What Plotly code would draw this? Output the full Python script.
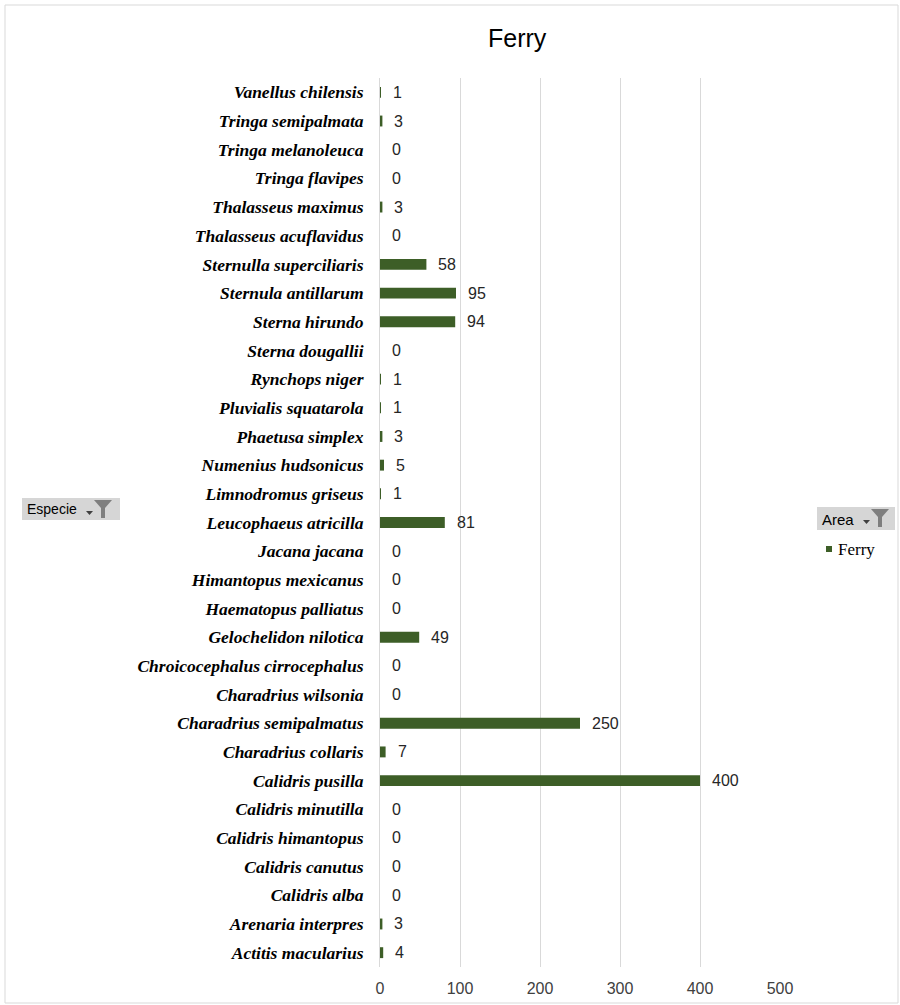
import plotly.graph_objects as go

species = [
    "Actitis macularius", "Arenaria interpres", "Calidris alba", "Calidris canutus",
    "Calidris himantopus", "Calidris minutilla", "Calidris pusilla", "Charadrius collaris",
    "Charadrius semipalmatus", "Charadrius wilsonia", "Chroicocephalus cirrocephalus",
    "Gelochelidon nilotica", "Haematopus palliatus", "Himantopus mexicanus", "Jacana jacana",
    "Leucophaeus atricilla", "Limnodromus griseus", "Numenius hudsonicus", "Phaetusa simplex",
    "Pluvialis squatarola", "Rynchops niger", "Sterna dougallii", "Sterna hirundo",
    "Sternula antillarum", "Sternulla superciliaris", "Thalasseus acuflavidus",
    "Thalasseus maximus", "Tringa flavipes", "Tringa melanoleuca", "Tringa semipalmata",
    "Vanellus chilensis",
]
ferry = [4, 3, 0, 0, 0, 0, 400, 7, 250, 0, 0, 49, 0, 0, 0, 81, 1, 5, 3, 1, 1, 0, 94,
         95, 58, 0, 3, 0, 0, 3, 1]
x_ticks = [0, 100, 200, 300, 400, 500]

GREEN = "#3D5E27"
W, H = 900, 1005
L, R, T, B = 380, 780, 78, 967


def X(px):
    return (px - L) / (R - L)


def Y(py):
    return (B - py) / (B - T)


fig = go.Figure()
fig.add_trace(go.Bar(
    x=ferry, y=species, orientation="h", marker=dict(color=GREEN, line=dict(width=0)),
    name="Ferry", showlegend=False, hoverinfo="x+y",
))

annotations = []
for s, v in zip(species, ferry):
    annotations.append(dict(
        x=v, y=s, xref="x", yref="y", text=str(v), showarrow=False,
        xanchor="left", xshift=10, font=dict(family="Liberation Sans, Arial", size=16, color="#262626"),
    ))

# title
annotations.append(dict(x=X(517), y=Y(38), xref="paper", yref="paper", text="Ferry",
                        showarrow=False, xanchor="center", yanchor="middle",
                        font=dict(family="Liberation Sans, Arial", size=25, color="#000000")))
# Especie button text
annotations.append(dict(x=X(25), y=Y(509), xref="paper", yref="paper", text="Especie",
                        showarrow=False, xanchor="left", yanchor="middle",
                        font=dict(family="Liberation Sans, Arial", size=14, color="#000000")))
# Area button text
annotations.append(dict(x=X(820), y=Y(519), xref="paper", yref="paper", text="Area",
                        showarrow=False, xanchor="left", yanchor="middle",
                        font=dict(family="Liberation Sans, Arial", size=15, color="#000000")))
# legend text
annotations.append(dict(x=X(836), y=Y(549), xref="paper", yref="paper", text="Ferry",
                        showarrow=False, xanchor="left", yanchor="middle",
                        font=dict(family="Liberation Serif, Times New Roman", size=17, color="#000000")))

shapes = [
    # outer chart border
    dict(type="rect", xref="paper", yref="paper", x0=X(5), x1=X(898), y0=Y(1003), y1=Y(5),
         line=dict(color="#D9D9D9", width=1), fillcolor="rgba(0,0,0,0)", layer="below"),
    # Especie button
    dict(type="rect", xref="paper", yref="paper", x0=X(22), x1=X(120), y0=Y(520), y1=Y(498),
         line=dict(width=0), fillcolor="#D6D6D6", layer="below"),
    # Area button
    dict(type="rect", xref="paper", yref="paper", x0=X(817), x1=X(895), y0=Y(530), y1=Y(507),
         line=dict(width=0), fillcolor="#D6D6D6", layer="below"),
    # legend marker
    dict(type="rect", xref="paper", yref="paper", x0=X(826), x1=X(832), y0=Y(552), y1=Y(546),
         line=dict(width=0), fillcolor=GREEN),
]


def funnel(x0, y0):
    # funnel icon with small arrow, top-left at pixel (x0, y0)
    p = (f"M {X(x0+8)},{Y(y0)} L {X(x0+26)},{Y(y0)} L {X(x0+19)},{Y(y0+8)} "
         f"L {X(x0+19)},{Y(y0+18)} L {X(x0+15)},{Y(y0+18)} L {X(x0+15)},{Y(y0+8)} Z")
    a = (f"M {X(x0)},{Y(y0+11)} L {X(x0+7)},{Y(y0+11)} L {X(x0+3.5)},{Y(y0+15)} Z")
    return [
        dict(type="path", xref="paper", yref="paper", path=p, fillcolor="#7F7F7F", line=dict(width=0)),
        dict(type="path", xref="paper", yref="paper", path=a, fillcolor="#404040", line=dict(width=0)),
    ]


shapes += funnel(86, 500)
shapes += funnel(863, 509)

fig.update_layout(
    width=W, height=H,
    margin=dict(l=L, r=W - R, t=T, b=H - B, autoexpand=False),
    paper_bgcolor="white", plot_bgcolor="white",
    bargap=0.62,
    showlegend=False,
    annotations=annotations,
    shapes=shapes,
    xaxis=dict(
        range=[0, 500], tickvals=x_ticks, ticktext=[str(t) for t in x_ticks],
        showgrid=True, gridcolor="#D9D9D9", gridwidth=1, zeroline=False,
        showline=False, ticks="", ticklabelstandoff=10, automargin=False,
        tickfont=dict(family="Liberation Sans, Arial", size=16, color="#404040"),
        fixedrange=True,
    ),
    yaxis=dict(
        categoryorder="array", categoryarray=species,
        showline=True, linecolor="#D9D9D9", linewidth=1, automargin=False,
        showgrid=False, ticks="", ticklabelstandoff=12,
        tickfont=dict(family="Liberation Serif, Times New Roman", size=17.5, color="#000000",
                      weight="bold", style="italic"),
        range=[-0.5, 30.5], fixedrange=True,
    ),
)

fig.write_html("out.html")
